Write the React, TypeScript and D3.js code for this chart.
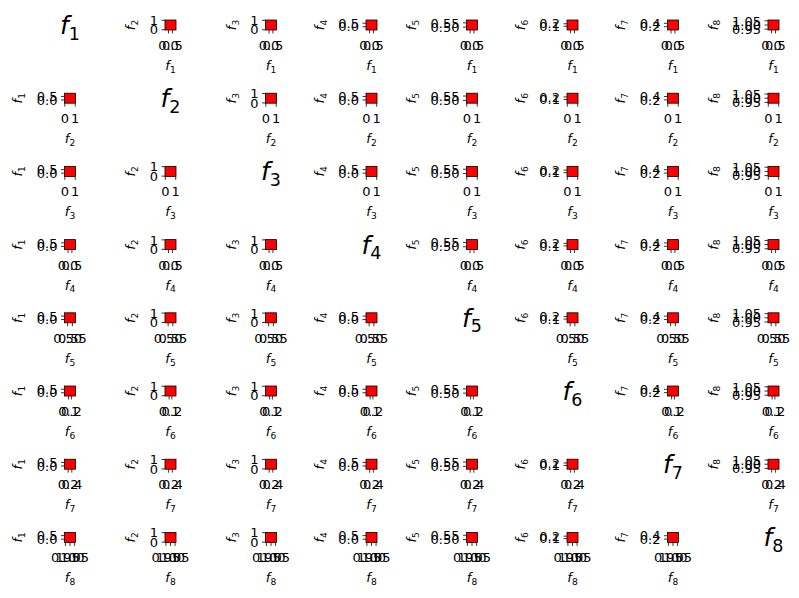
import React from 'react';
import * as d3 from 'd3';

// variables f1..f8
const varNames = ['1', '2', '3', '4', '5', '6', '7', '8'];
const lows = [-0.46, -0.03, -0.03, -0.46, 0.467, -0.05, 0.0, 0.94];
const highs = [0.96, 1.03, 1.03, 0.96, 0.583, 0.35, 0.6, 1.06];
const tickValues = [
  [0, 0.5], [0, 1], [0, 1], [0, 0.5], [0.5, 0.55], [0.1, 0.2], [0.2, 0.4], [0.95, 1.0, 1.05],
];
const tickLabels = [
  ['0.0', '0.5'], ['0', '1'], ['0', '1'], ['0.0', '0.5'], ['0.50', '0.55'],
  ['0.1', '0.2'], ['0.2', '0.4'], ['0.95', '1.00', '1.05'],
];

const width = 799;
const height = 598;
const left0 = 64.5;
const colStep = 100.5;
const top0 = 20;
const rowStep = 73.2;
const aw = 11;
const ah = 10;
const fs = 13;
const font = 'DejaVu Sans';

const textW = (s: string, size: number) =>
  s.split('').reduce((w, c) => w + (c === '.' ? 0.318 : 0.636) * size, 0);

const Label = ({ k, size }: { k: string; size: number }) => (
  <>
    <tspan fontStyle="italic" fontSize={size}>f</tspan>
    <tspan fontSize={size * 0.7} dy={size * 0.22}>{k}</tspan>
  </>
);

const Cell = ({ i, j }: { i: number; j: number }) => {
  const x0 = left0 + colStep * j;
  const y0 = top0 + rowStep * i;
  if (i === j) {
    return (
      <text x={x0 + aw / 2} y={y0 + ah / 2 + 9} textAnchor="middle" fontFamily={font}>
        <Label k={varNames[i]} size={25} />
      </text>
    );
  }
  const x = d3.scaleLinear().domain([lows[i], highs[i]]).range([x0, x0 + aw]);
  const y = d3.scaleLinear().domain([lows[j], highs[j]]).range([y0 + ah, y0]);
  const maxW = d3.max(tickLabels[j], (s) => textW(s, fs)) as number;
  const ylx = x0 - 7 - maxW - 19;
  const cy = y0 + ah / 2;
  return (
    <g fontFamily={font}>
      <rect
        x={x(lows[i])}
        y={y(highs[j])}
        width={x(highs[i]) - x(lows[i])}
        height={y(lows[j]) - y(highs[j])}
        fill="red"
        stroke="black"
        strokeWidth={0.8}
      />
      {tickValues[j].map((t, k) => (
        <g key={'y' + k}>
          <line x1={x0 - 3.5} x2={x0} y1={y(t)} y2={y(t)} stroke="black" strokeWidth={0.8} />
          <text x={x0 - 7} y={y(t)} dy="0.36em" textAnchor="end" fontSize={fs}>
            {tickLabels[j][k]}
          </text>
        </g>
      ))}
      {tickValues[i].map((t, k) => (
        <g key={'x' + k}>
          <line x1={x(t)} x2={x(t)} y1={y0 + ah} y2={y0 + ah + 3.5} stroke="black" strokeWidth={0.8} />
          <text x={x(t)} y={y0 + ah + 20} textAnchor="middle" fontSize={fs}>
            {tickLabels[i][k]}
          </text>
        </g>
      ))}
      <text x={x0 + aw / 2} y={y0 + ah + 40} textAnchor="middle">
        <Label k={varNames[i]} size={fs} />
      </text>
      <text transform={`translate(${ylx + 4.5},${cy}) rotate(-90)`} textAnchor="middle">
        <Label k={varNames[j]} size={fs} />
      </text>
    </g>
  );
};

export default function App() {
  return (
    <svg
      width={width}
      height={height}
      style={{ position: 'absolute', left: 0, top: 0, background: 'white' }}
    >
      {varNames.map((_, i) =>
        varNames.map((_, j) => <Cell key={`${i}-${j}`} i={i} j={j} />)
      )}
    </svg>
  );
}
